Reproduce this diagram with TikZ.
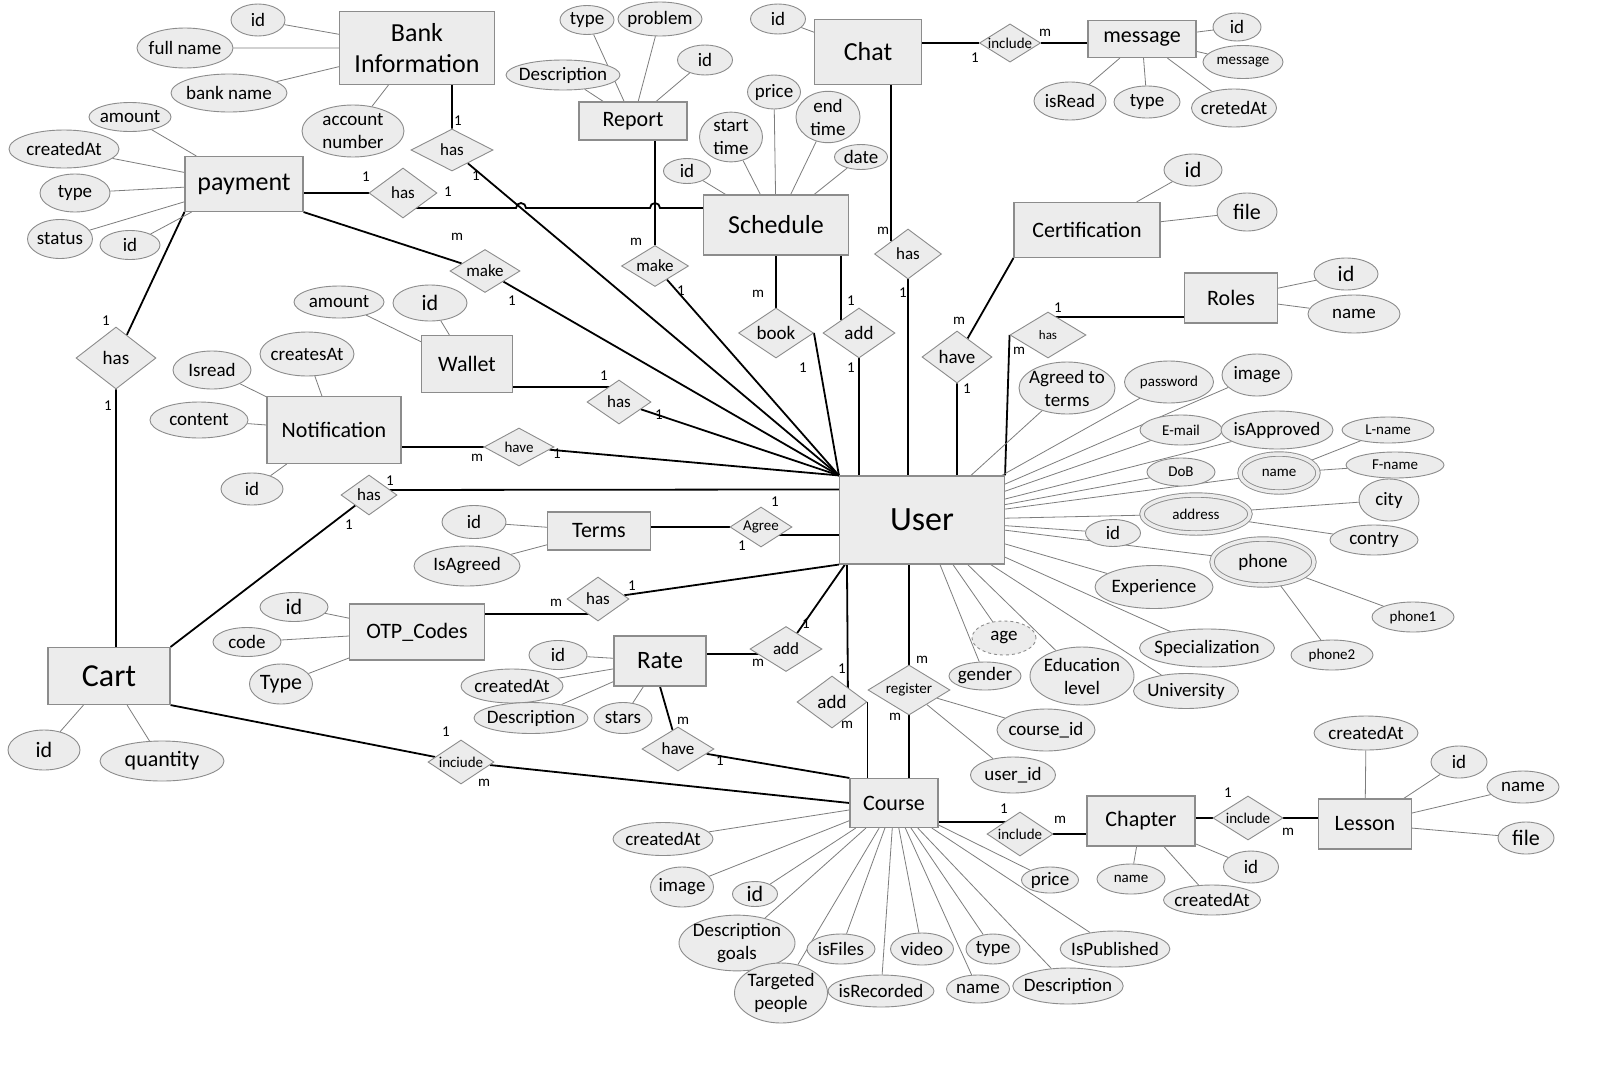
\documentclass[tikz,border=0pt]{standalone}
\usepackage{fontspec}
\setmainfont{Carlito}
\usetikzlibrary{shapes.geometric,backgrounds,calc}

\definecolor{boxfill}{RGB}{236,236,236}
\definecolor{boxline}{RGB}{140,140,140}
\definecolor{attrline}{RGB}{125,125,125}

\begin{document}
\begin{tikzpicture}[x=1pt, y=-1pt,
    sz/.style 2 args={minimum width=#1pt, minimum height=#2pt},
    ent/.style={rectangle, draw=boxline, fill=boxfill, line width=1.1pt, inner sep=0pt, align=center, font=\fontsize{22}{26}\selectfont},
    big/.style={font=\fontsize{26}{31}\selectfont},
    attr/.style={ellipse, draw=boxline, fill=boxfill, line width=0.9pt, inner xsep=-5pt, inner ysep=0pt, align=center, font=\fontsize{19}{23}\selectfont},
    sm/.style={font=\fontsize{15}{18}\selectfont},
    lg/.style={font=\fontsize{22}{26}\selectfont},
    multi/.style={double=boxfill, double distance=3.5pt},
    derived/.style={dashed},
    rel/.style={diamond, draw=boxline, fill=boxfill, line width=0.9pt, inner sep=0pt, aspect=1.6, font=\fontsize{17}{20}\selectfont},
    rbig/.style={font=\fontsize{19}{22}\selectfont},
    rsm/.style={font=\fontsize{15}{18}\selectfont},
    card/.style={inner sep=0pt, font=\fontsize{15}{15}\selectfont},
    link/.style={line width=1.8pt},
    prop/.style={line width=0.8pt, draw=attrline}]

\useasboundingbox (0,0) rectangle (1624,1071);

% entities
\node[ent, big, sz={155}{73}] (bank) at (417,48) {Bank\\Information};
\node[ent, big, sz={118}{55}] (pay) at (244,184) {payment};
\node[ent, sz={108}{38}] (report) at (633,121) {Report};
\node[ent, big, sz={145}{60}] (sched) at (776,225) {Schedule};
\node[ent, big, sz={107}{65}] (chat) at (868,52) {Chat};
\node[ent, sz={108}{37}] (msg) at (1142,39) {message};
\node[ent, sz={146}{55}] (cert) at (1087,230) {Certification};
\node[ent, sz={93}{50}] (roles) at (1231,298) {Roles};
\node[ent, sz={91}{57}] (wallet) at (467,364) {Wallet};
\node[ent, sz={134}{67}] (notif) at (334,430) {Notification};
\node[ent, sz={103}{38}] (terms) at (599,531) {Terms};
\node[ent, sz={135}{56}] (otp) at (417,632) {OTP\_Codes};
\node[ent, sz={122}{57}, font=\fontsize{32}{36}\selectfont] (cart) at (109,676) {Cart};
\node[ent, sz={92}{50}, font=\fontsize{25}{30}\selectfont] (rate) at (660,661) {Rate};
\node[ent, sz={165}{88}, font=\fontsize{34}{40}\selectfont] (user) at (922,520) {User};
\node[ent, sz={88}{49}] (course) at (894,803) {Course};
\node[ent, sz={108}{50}] (chapter) at (1141,821) {Chapter};
\node[ent, sz={93}{50}] (lesson) at (1365,824) {Lesson};

% relationships
\node[rel, sz={82}{42}] (has1) at (452,150) {has};
\node[rel, sz={68}{50}] (has2) at (403,193) {has};
\node[rel, sz={70}{43}] (make1) at (485,271) {make};
\node[rel, rbig, sz={80}{62}] (has3) at (116,358) {has};
\node[rel, sz={67}{41}] (make2) at (655,266) {make};
\node[rel, rbig, sz={75}{50}] (book) at (776,333) {book};
\node[rel, rbig, sz={72}{50}] (add1) at (859,333) {add};
\node[rel, sz={67}{50}] (has4) at (908,254) {has};
\node[rel, rsm, sz={61}{38}] (inc1) at (1010,43) {include};
\node[rel, rbig, sz={70}{52}] (have1) at (957,357) {have};
\node[rel, sz={76}{46}, font=\fontsize{13}{15}\selectfont] (has5) at (1048,335) {has};
\node[rel, sz={64}{44}] (has6) at (619,402) {has};
\node[rel, rsm, sz={70}{38}] (have2) at (519,447) {have};
\node[rel, sz={56}{40}] (has7) at (369,495) {has};
\node[rel, rsm, sz={62}{40}] (agree) at (761,527) {Agree};
\node[rel, sz={62}{44}] (has8) at (598,599) {has};
\node[rel, sz={72}{45}] (add2) at (786,649) {add};
\node[rel, sz={72}{44}] (have3) at (678,749) {have};
\node[rel, rsm, sz={66}{44}] (inc2) at (461,762) {inciude};
\node[rel, rbig, sz={70}{52}] (add3) at (832,702) {add};
\node[rel, rsm, sz={82}{50}] (reg) at (909,690) {register};
\node[rel, rsm, sz={66}{44}] (inc3) at (1020,834) {include};
\node[rel, rsm, sz={70}{44}] (inc4) at (1248,818) {include};

% attributes of Bank Information and payment
\node[attr, sz={54}{32}] (bankid) at (258,20) {id};
\node[attr, sz={96}{40}] (fullname) at (185,48) {full name};
\node[attr, sz={116}{38}] (bankname) at (229,93) {bank name};
\node[attr, sz={102}{52}] (accnum) at (353,131) {account\\number};
\node[attr, sz={82}{29}] (payamount) at (130,117) {amount};
\node[attr, sz={110}{38}] (paycreated) at (64,149) {createdAt};
\node[attr, sz={70}{38}] (paytype) at (75,193) {type};
\node[attr, sz={65}{39}] (paystatus) at (60,239) {status};
\node[attr, sz={60}{29}] (payid) at (130,245) {id};

% attributes of Report, Schedule, Chat, message
\node[attr, sz={54}{29}] (reptype) at (587,20) {type};
\node[attr, sz={84}{34}] (repproblem) at (660,19) {problem};
\node[attr, sz={55}{30}] (repid) at (705,60) {id};
\node[attr, sz={114}{30}] (repdesc) at (563,75) {Description};
\node[attr, sz={47}{25}] (schid) at (687,171) {id};
\node[attr, sz={63}{42}] (schstart) at (731,137) {start\\time};
\node[attr, sz={53}{34}] (schprice) at (774,92) {price};
\node[attr, sz={64}{43}] (schend) at (828,117) {end\\time};
\node[attr, sz={53}{25}] (schdate) at (861,157) {date};
\node[attr, sz={55}{30}] (chatid) at (778,19) {id};
\node[attr, sz={48}{28}] (msgid) at (1237,27) {id};
\node[attr, sm, sz={80}{33}] (msgtext) at (1243,62) {message};
\node[attr, sz={72}{38}] (msgread) at (1070,101) {isRead};
\node[attr, sz={66}{32}] (msgtype) at (1147,102) {type};
\node[attr, sz={85}{38}] (msgcreated) at (1234,108) {cretedAt};

% attributes of Certification, Roles, Wallet, Notification
\node[attr, lg, sz={58}{32}] (certid) at (1193,170) {id};
\node[attr, lg, sz={60}{38}] (certfile) at (1247,212) {file};
\node[attr, lg, sz={64}{32}] (rolesid) at (1346,274) {id};
\node[attr, sz={92}{38}] (rolesname) at (1354,314) {name};
\node[attr, sz={90}{32}] (walamount) at (339,302) {amount};
\node[attr, lg, sz={74}{36}] (walid) at (430,303) {id};
\node[attr, sz={78}{38}] (notread) at (212,370) {Isread};
\node[attr, sz={94}{44}] (notcreated) at (307,354) {createsAt};
\node[attr, sz={98}{36}] (notcontent) at (199,420) {content};
\node[attr, sz={62}{32}] (notid) at (252,489) {id};

% attributes of Terms, OTP_Codes, Cart, Rate
\node[attr, sz={64}{33}] (termsid) at (474,522) {id};
\node[attr, sz={106}{40}] (termsagreed) at (467,566) {IsAgreed};
\node[attr, lg, sz={68}{29}] (otpid) at (294,607) {id};
\node[attr, sz={68}{29}] (otpcode) at (247,642) {code};
\node[attr, lg, sz={63}{40}] (otptype) at (281,684) {Type};
\node[attr, lg, sz={72}{40}] (cartid) at (44,750) {id};
\node[attr, lg, sz={124}{40}] (cartqty) at (162,761) {quantity};
\node[attr, sz={58}{29}] (rateid) at (558,655) {id};
\node[attr, sz={102}{34}] (ratecreated) at (512,686) {createdAt};
\node[attr, sz={114}{31}] (ratedesc) at (531,718) {Description};
\node[attr, sz={58}{31}] (ratestars) at (623,718) {stars};

% attributes of User
\node[attr, sz={96}{52}] (uagreed) at (1067,388) {Agreed to\\terms};
\node[attr, sm, sz={89}{42}] (upass) at (1169,382) {password};
\node[attr, sz={70}{42}] (uimage) at (1257,375) {image};
\node[attr, sm, sz={82}{30}] (umail) at (1181,430) {E-mail};
\node[attr, sz={112}{38}] (uapproved) at (1277,430) {isApproved};
\node[attr, sm, sz={92}{26}] (ulname) at (1388,430) {L-name};
\node[attr, sm, sz={68}{28}] (udob) at (1181,472) {DoB};
\node[attr, multi, sm, sz={78}{38}] (uname) at (1279,473) {name};
\node[attr, sm, sz={98}{26}] (ufname) at (1395,465) {F-name};
\node[attr, sz={60}{42}] (ucity) at (1389,500) {city};
\node[attr, multi, sm, sz={108}{38}] (uaddr) at (1196,514) {address};
\node[attr, sz={55}{27}] (uid) at (1113,533) {id};
\node[attr, sz={88}{30}] (ucountry) at (1374,540) {contry};
\node[attr, multi, sz={102}{46}] (uphone) at (1263,562) {phone};
\node[attr, sz={118}{43}] (uexp) at (1154,587) {Experience};
\node[attr, sm, sz={82}{30}] (uphone1) at (1413,617) {phone1};
\node[attr, sm, sz={82}{30}] (uphone2) at (1332,655) {phone2};
\node[attr, sz={135}{38}] (uspec) at (1207,648) {Specialization};
\node[attr, derived, sz={64}{34}] (uage) at (1004,638) {age};
\node[attr, sz={72}{28}] (ugender) at (985,676) {gender};
\node[attr, sz={104}{58}] (uedu) at (1082,676) {Education\\level};
\node[attr, sz={105}{35}] (uuni) at (1186,691) {University};
\node[attr, sz={98}{42}] (regcourse) at (1046,730) {course\_id};
\node[attr, sz={85}{36}] (reguser) at (1013,775) {user\_id};

% attributes of Course, Chapter, Lesson
\node[attr, sz={100}{33}] (ccreated) at (663,839) {createdAt};
\node[attr, sz={63}{40}] (cimage) at (682,887) {image};
\node[attr, lg, sz={45}{25}] (cid) at (755,894) {id};
\node[attr, sz={116}{45}] (cgoals) at (737,943) {Description\\goals};
\node[attr, sz={105}{32}] (crecorded) at (881,991) {isRecorded};
\node[attr, sz={93}{60}] (ctarget) at (781,993) {Targeted\\people};
\node[attr, sz={68}{30}] (cfiles) at (841,949) {isFiles};
\node[attr, sz={63}{32}] (cvideo) at (922,949) {video};
\node[attr, sz={63}{28}] (cname) at (978,989) {name};
\node[attr, sz={54}{30}] (ctype) at (993,949) {type};
\node[attr, sz={101}{36}] (cdesc) at (1068,986) {Description};
\node[attr, sz={57}{26}] (cprice) at (1050,880) {price};
\node[attr, sz={100}{36}] (cpublished) at (1115,949) {IsPublished};
\node[attr, sm, sz={68}{30}] (chname) at (1131,879) {name};
\node[attr, sz={97}{30}] (chcreated) at (1212,900) {createdAt};
\node[attr, sz={55}{32}] (chid) at (1251,867) {id};
\node[attr, sz={104}{34}] (lcreated) at (1366,733) {createdAt};
\node[attr, sz={56}{32}] (lid) at (1459,762) {id};
\node[attr, sz={72}{32}] (lname) at (1523,787) {name};
\node[attr, lg, sz={56}{32}] (lfile) at (1526,838) {file};

% cardinalities
\node[card] (k1a) at (458,121) {1};
\node[card] (k1b) at (476,176) {1};
\node[card] (k2a) at (366,177) {1};
\node[card] (k2b) at (448,192) {1};
\node[card] (k3a) at (457,237) {m};
\node[card] (k3b) at (512,301) {1};
\node[card] (k4a) at (106,321) {1};
\node[card] (k4b) at (108,406) {1};
\node[card] (k5a) at (636,242) {m};
\node[card] (k5b) at (681,291) {1};
\node[card] (k6a) at (758,294) {m};
\node[card] (k6b) at (803,368) {1};
\node[card] (k7a) at (851,301) {1};
\node[card] (k7b) at (851,368) {1};
\node[card] (k8a) at (883,231) {m};
\node[card] (k8b) at (903,293) {1};
\node[card] (k9a) at (975,58) {1};
\node[card] (k9b) at (1045,33) {m};
\node[card] (k10a) at (959,321) {m};
\node[card] (k10b) at (967,389) {1};
\node[card] (k11a) at (1058,308) {1};
\node[card] (k11b) at (1019,351) {m};
\node[card] (k12a) at (604,376) {1};
\node[card] (k12b) at (659,415) {1};
\node[card] (k13a) at (477,458) {m};
\node[card] (k13b) at (557,454) {1};
\node[card] (k14a) at (390,481) {1};
\node[card] (k14b) at (349,525) {1};
\node[card] (k15a) at (775,502) {1};
\node[card] (k15b) at (742,546) {1};
\node[card] (k16a) at (556,603) {m};
\node[card] (k16b) at (632,586) {1};
\node[card] (k17a) at (806,624) {1};
\node[card] (k17b) at (758,663) {m};
\node[card] (k18a) at (683,721) {m};
\node[card] (k18b) at (720,761) {1};
\node[card] (k19a) at (446,732) {1};
\node[card] (k19b) at (484,783) {m};
\node[card] (k20a) at (842,669) {1};
\node[card] (k20b) at (847,725) {m};
\node[card] (k21a) at (922,660) {m};
\node[card] (k21b) at (895,717) {m};
\node[card] (k22a) at (1004,809) {1};
\node[card] (k22b) at (1060,820) {m};
\node[card] (k23a) at (1228,793) {1};
\node[card] (k23b) at (1288,832) {m};

\begin{scope}[on background layer]
  \fill[white] (0,0) rectangle (1624,1071);

  % connectors of relationships
  \draw[link] (bank.south -| has1) -- (has1) -- (user.north west);
  \draw[link] (pay.east |- has2) -- (has2);
  \draw[link] ($(has2)+(0,15)$) -- (516,208) arc[start angle=180, end angle=0, radius=5pt]
      -- (650,208) arc[start angle=180, end angle=0, radius=5pt] -- ($(sched.west)+(0,-17)$);
  \draw[link] (pay.south east) -- (make1) -- (user.north west);
  \draw[link] (pay.south west) -- (has3) -- (cart.north -| has3);
  \draw[link] (report.south -| make2) -- (make2) -- (user.north west);
  \draw[link] (sched.south -| book) -- (book);
  \draw[link] (book.east) -- (user.north west);
  \draw[link] (sched.south -| add1.north west) -- (add1.north west);
  \draw[link] (add1) -- (user.north -| add1);
  \draw[link] (chat.south -| has4.north west) -- (has4.north west);
  \draw[link] (has4) -- (user.north -| has4);
  \draw[link] (cert.south west) -- (have1) -- (user.north -| have1);
  \draw[link] ($(roles.west)+(0,19)$) -- ($(has5)+(0,-18)$);
  \draw[link] (has5.west) -- (user.north east);
  \draw[link] ($(wallet.east)+(0,23)$) -- ($(has6)+(0,-15)$);
  \draw[link] (has6) -- (user.north west);
  \draw[link] (notif.east |- have2) -- (have2) -- (user.north west);
  \draw[link] ($(has7)+(0,-5)$) -- ($(user.north west)+(0,14)$);
  \draw[link] (has7) -- (cart.north east);
  \draw[link] (terms.east |- agree) -- (agree);
  \draw[link] ($(agree)+(0,8)$) -- ($(user.west)+(0,15)$);
  \draw[link] ($(otp.east)+(0,-18)$) -- ($(has8)+(0,15)$);
  \draw[link] (has8) -- (user.south west);
  \draw[link] ($(rate.east)+(0,-7)$) -- ($(add2)+(0,5)$);
  \draw[link] (add2) -- ($(user.south west)+(6,0)$);
  \draw[link] (rate.south) -- (have3) -- (course.north west);
  \draw[link] (cart.south east) -- (inc2) -- (course.west);
  \draw[link] ($(user.south west)+(8,0)$) -- ($(add3)+(16,0)$);
  \draw[link] (add3.east) -- (course.north west -| add3.east);
  \draw[link] (user.south -| reg) -- (reg) -- (course.north -| reg);
  \draw[link] ($(course.east)+(0,19)$) -- ($(inc3)+(0,-12)$);
  \draw[link] (inc3) -- (chapter.west |- inc3);
  \draw[link] ($(chapter.east)+(0,-3)$) -- (inc4) -- (lesson.west |- inc4);
  \draw[link] (chat.east |- inc1) -- (inc1) -- (msg.west |- inc1);

  % attribute lines
  \draw[prop] (bank) -- (bankid) (bank) -- (fullname) (bank) -- (bankname) (bank) -- (accnum);
  \draw[prop] (pay) -- (payamount) (pay) -- (paycreated) (pay) -- (paytype) (pay) -- (paystatus) (pay) -- (payid);
  \draw[prop] (report) -- (reptype) (report) -- (repproblem) (report) -- (repid) (report) -- (repdesc);
  \draw[prop] (sched) -- (schid) (sched) -- (schstart) (sched) -- (schprice) (sched) -- (schend) (sched) -- (schdate);
  \draw[prop] (chat) -- (chatid);
  \draw[prop] (msg) -- (msgid) (msg) -- (msgtext) (msg) -- (msgread) (msg) -- (msgtype) (msg) -- (msgcreated);
  \draw[prop] (cert) -- (certid) (cert) -- (certfile);
  \draw[prop] (roles) -- (rolesid) (roles) -- (rolesname);
  \draw[prop] (wallet) -- (walamount) (wallet) -- (walid);
  \draw[prop] (notif) -- (notread) (notif) -- (notcreated) (notif) -- (notcontent) (notif) -- (notid);
  \draw[prop] (terms) -- (termsid) (terms) -- (termsagreed);
  \draw[prop] (otp) -- (otpid) (otp) -- (otpcode) (otp) -- (otptype);
  \draw[prop] (cart) -- (cartid) (cart) -- (cartqty);
  \draw[prop] (rate) -- (rateid) (rate) -- (ratecreated) (rate) -- (ratedesc) (rate) -- (ratestars);
  \draw[prop] (user) -- (uagreed) (user) -- (upass) (user) -- (uimage) (user) -- (umail)
      (user) -- (uapproved) (user) -- (udob) (user) -- (uname) (user) -- (uaddr) (user) -- (uid)
      (user) -- (uphone) (user) -- (uexp) (user) -- (uspec) (user) -- (uage) (user) -- (ugender)
      (user) -- (uedu) (user) -- (uuni);
  \draw[prop] (uname) -- (ulname) (uname) -- (ufname) (uaddr) -- (ucity) (uaddr) -- (ucountry)
      (uphone) -- (uphone1) (uphone) -- (uphone2);
  \draw[prop] (reg) -- (regcourse) (reg) -- (reguser);
  \draw[prop] (course) -- (ccreated) (course) -- (cimage) (course) -- (cid) (course) -- (cgoals)
      (course) -- (ctarget) (course) -- (cfiles) (course) -- (crecorded) (course) -- (cvideo)
      (course) -- (cname) (course) -- (ctype) (course) -- (cdesc) (course) -- (cprice) (course) -- (cpublished);
  \draw[prop] (chapter) -- (chname) (chapter) -- (chcreated) (chapter) -- (chid);
  \draw[prop] (lesson) -- (lcreated) (lesson) -- (lid) (lesson) -- (lname) (lesson) -- (lfile);
\end{scope}
\end{tikzpicture}
\end{document}
